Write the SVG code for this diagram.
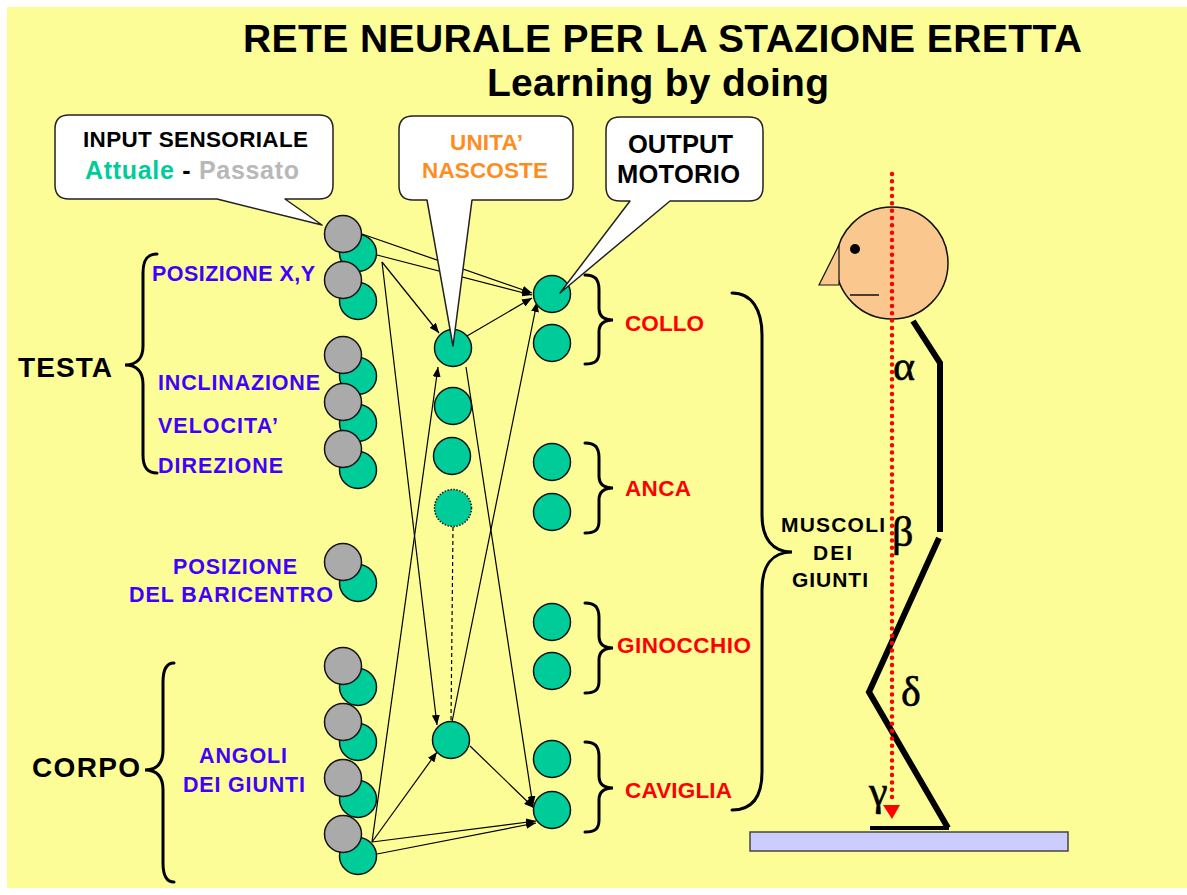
<svg xmlns="http://www.w3.org/2000/svg" width="1187" height="895" viewBox="0 0 1187 895">
  <style>
    .t { font-family: "Liberation Sans", Arial, sans-serif; font-weight: bold; }
    .title { font-size: 39px; fill: #000; }
    .call { font-size: 22.5px; }
    .blue { font-size: 21.5px; fill: #4000FF; }
    .red { font-size: 22.5px; fill: #FF0000; }
    .blk { font-size: 21px; fill: #000; }
    .big { font-size: 28px; fill: #000; }
    .greek { font-family: "Liberation Serif", "Times New Roman", serif; font-size: 42px; fill: #000; stroke: #000; stroke-width: 0.6; }
    .bubble { fill: #fff; stroke: #222; stroke-width: 1.5; stroke-linejoin: round; }
    .in-a { fill: #00CC99; stroke: #111; stroke-width: 1.5; }
    .in-p { fill: #AAAAAA; stroke: #111; stroke-width: 1.5; }
    .unit { fill: #00CC99; stroke: #111; stroke-width: 1.5; }
    .brace { fill: none; stroke: #000; stroke-width: 3; stroke-linecap: round; }
    .link { fill: none; stroke: #000; stroke-width: 1.2; }
    .body { fill: none; stroke: #000; stroke-width: 6; }
  </style>
  <defs>
    <marker id="arrow" viewBox="0 0 10 8" refX="10" refY="4" markerWidth="10" markerHeight="8" markerUnits="userSpaceOnUse" orient="auto">
      <path d="M0,0 L10,4 L0,8 Z" fill="#000"/>
    </marker>
  </defs>

  <!-- page -->
  <rect x="0" y="0" width="1187" height="895" fill="#fff"/>
  <rect x="7" y="7" width="1180" height="881" fill="#FDFD98"/>

  <!-- title -->
  <g id="title">
    <text class="t title" x="243" y="52" textLength="839">RETE NEURALE PER LA STAZIONE ERETTA</text>
    <text class="t title" x="487" y="96" textLength="342">Learning by doing</text>
  </g>

  <!-- connectors -->
  <g id="connectors">
    <line class="link" x1="362" y1="234" x2="532" y2="293" marker-end="url(#arrow)"/>
    <line class="link" x1="377" y1="255" x2="532" y2="295" marker-end="url(#arrow)"/>
    <line class="link" x1="382" y1="262" x2="439" y2="333" marker-end="url(#arrow)"/>
    <line class="link" x1="382" y1="262" x2="437" y2="725" marker-end="url(#arrow)"/>
    <line class="link" x1="372" y1="842" x2="438" y2="367" marker-end="url(#arrow)"/>
    <line class="link" x1="372" y1="842" x2="437" y2="752" marker-end="url(#arrow)"/>
    <line class="link" x1="372" y1="842" x2="536" y2="821" marker-end="url(#arrow)"/>
    <line class="link" x1="377" y1="854" x2="536" y2="823" marker-end="url(#arrow)"/>
    <line class="link" x1="467" y1="336" x2="532" y2="298" marker-end="url(#arrow)"/>
    <line class="link" x1="466" y1="367" x2="533" y2="806" marker-end="url(#arrow)"/>
    <line class="link" x1="452" y1="722" x2="537" y2="302" marker-end="url(#arrow)"/>
    <line class="link" x1="470" y1="746" x2="534" y2="808" marker-end="url(#arrow)"/>
    <line class="link" x1="453" y1="527" x2="451" y2="722" stroke-dasharray="4 3"/>
  </g>

  <!-- input units: current (green) behind, past (grey) in front -->
  <g id="inputs">
    <circle class="in-a" cx="358" cy="253" r="18.5"/><circle class="in-p" cx="343" cy="234" r="18.5"/>
    <circle class="in-a" cx="358" cy="301" r="18.5"/><circle class="in-p" cx="343" cy="280" r="18.5"/>
    <circle class="in-a" cx="358" cy="376" r="18.5"/><circle class="in-p" cx="343" cy="355" r="18.5"/>
    <circle class="in-a" cx="358" cy="423" r="18.5"/><circle class="in-p" cx="343" cy="402" r="18.5"/>
    <circle class="in-a" cx="358" cy="470" r="18.5"/><circle class="in-p" cx="343" cy="449" r="18.5"/>
    <circle class="in-a" cx="358" cy="583" r="18.5"/><circle class="in-p" cx="343" cy="562" r="18.5"/>
    <circle class="in-a" cx="358" cy="687" r="18.5"/><circle class="in-p" cx="343" cy="666" r="18.5"/>
    <circle class="in-a" cx="358" cy="742" r="18.5"/><circle class="in-p" cx="343" cy="722" r="18.5"/>
    <circle class="in-a" cx="358" cy="799" r="18.5"/><circle class="in-p" cx="343" cy="778" r="18.5"/>
    <circle class="in-a" cx="358" cy="856" r="18.5"/><circle class="in-p" cx="343" cy="834" r="18.5"/>
  </g>

  <!-- hidden units -->
  <g id="hidden">
    <circle class="unit" cx="453" cy="348" r="18.5"/>
    <circle class="unit" cx="453" cy="406" r="18.5"/>
    <circle class="unit" cx="452" cy="456" r="18.5"/>
    <circle class="unit" cx="453" cy="508" r="18.5" stroke="#556" stroke-dasharray="1.5 1.5" stroke-width="1"/>
    <circle class="unit" cx="451" cy="740" r="18.5"/>
  </g>

  <!-- output units -->
  <g id="outputs">
    <circle class="unit" cx="552" cy="294" r="18.5"/>
    <circle class="unit" cx="552" cy="343" r="18.5"/>
    <circle class="unit" cx="552" cy="462" r="18.5"/>
    <circle class="unit" cx="552" cy="512" r="18.5"/>
    <circle class="unit" cx="552" cy="622" r="18.5"/>
    <circle class="unit" cx="552" cy="671" r="18.5"/>
    <circle class="unit" cx="552" cy="759" r="18.5"/>
    <circle class="unit" cx="552" cy="810" r="18.5"/>
  </g>

  <!-- callouts -->
  <g id="callout-input">
    <path class="bubble" d="M69,115 H319 Q333,115 333,129 V185 Q333,199 319,199 H285 L322,225 L217,199 H69 Q55,199 55,185 V129 Q55,115 69,115 Z"/>
    <text class="t call" x="83" y="147" textLength="225" fill="#000">INPUT SENSORIALE</text>
    <text class="t" x="85" y="179" textLength="214" font-size="25"><tspan fill="#00CC99">Attuale</tspan><tspan fill="#000"> - </tspan><tspan fill="#B8B8B8">Passato</tspan></text>
  </g>
  <g id="callout-hidden">
    <path class="bubble" d="M413,116 H559 Q573,116 573,130 V186 Q573,200 559,200 H472 L453,346 L427,200 H413 Q399,200 399,186 V130 Q399,116 413,116 Z"/>
    <text class="t call" x="450" y="150" textLength="73" fill="#FF8C1E">UNITA’</text>
    <text class="t call" x="422" y="178" textLength="126" fill="#FF8C1E">NASCOSTE</text>
  </g>
  <g id="callout-output">
    <path class="bubble" d="M620,117 H749 Q763,117 763,131 V187 Q763,201 749,201 H670 L560,293 L630,201 H620 Q606,201 606,187 V131 Q606,117 620,117 Z"/>
    <text class="t" x="628" y="153" textLength="105" font-size="25.5">OUTPUT</text>
    <text class="t" x="617" y="183" textLength="123" font-size="25.5">MOTORIO</text>
  </g>

  <!-- input labels -->
  <g id="head-inputs">
    <path class="brace" d="M157,254 C147,254 143,260 143,273 V346 C143,358 137,365 125,365 C137,365 143,372 143,384 V455 C143,467 147,473 157,473"/>
    <text class="t big" x="18" y="377" textLength="94">TESTA</text>
    <text class="t blue" x="152" y="281" textLength="163">POSIZIONE X,Y</text>
    <text class="t blue" x="158" y="390" textLength="162">INCLINAZIONE</text>
    <text class="t blue" x="158" y="433" textLength="120">VELOCITA’</text>
    <text class="t blue" x="158" y="473" textLength="125">DIREZIONE</text>
  </g>
  <g id="barycentre-input">
    <text class="t blue" x="173" y="574" textLength="124">POSIZIONE</text>
    <text class="t blue" x="129" y="602" textLength="204">DEL BARICENTRO</text>
  </g>
  <g id="body-inputs">
    <path class="brace" d="M174,663 C167,663 163,669 163,682 V750 C163,763 157,770 145,770 C157,770 163,777 163,790 V863 C163,876 167,882 174,882"/>
    <text class="t big" x="32" y="777" textLength="108">CORPO</text>
    <text class="t blue" x="199" y="763" textLength="88">ANGOLI</text>
    <text class="t blue" x="183" y="792" textLength="122">DEI GIUNTI</text>
  </g>

  <!-- output labels -->
  <g id="joint-outputs">
    <path class="brace" d="M585,275 C595,275 599,279 599,290 V308 C599,316 604,320 613,320 C604,320 599,324 599,332 V352 C599,361 595,364 585,364"/>
    <path class="brace" d="M585,443 C595,443 599,447 599,458 V476 C599,484 604,488 613,488 C604,488 599,492 599,500 V521 C599,530 595,533 585,533"/>
    <path class="brace" d="M585,603 C595,603 599,607 599,618 V636 C599,644 604,648 613,648 C604,648 599,652 599,660 V681 C599,690 595,693 585,693"/>
    <path class="brace" d="M585,742 C595,742 599,746 599,757 V776 C599,784 604,788 613,788 C604,788 599,792 599,800 V820 C599,829 595,832 585,832"/>
    <text class="t red" x="625" y="331" textLength="79">COLLO</text>
    <text class="t red" x="625" y="496" textLength="66">ANCA</text>
    <text class="t red" x="617" y="653" textLength="134">GINOCCHIO</text>
    <text class="t red" x="625" y="798" textLength="107">CAVIGLIA</text>
  </g>
  <g id="muscles">
    <path class="brace" d="M732,293 C752,293 762,310 762,335 V515 C762,538 772,552 792,552 C772,552 762,566 762,590 V772 C762,797 752,810 732,810"/>
    <text class="t blk" x="781" y="532" textLength="104">MUSCOLI</text>
    <text class="t blk" x="813" y="560" textLength="39">DEI</text>
    <text class="t blk" x="792" y="587" textLength="76">GIUNTI</text>
  </g>

  <!-- standing figure -->
  <g id="figure">
    <rect x="750" y="832" width="318" height="19" fill="#CCCCFF" stroke="#444" stroke-width="1.5"/>
    <circle cx="892" cy="263" r="56" fill="#FAC88F" stroke="#111" stroke-width="1.5"/>
    <polygon points="839,245 819,285 839,285" fill="#FAC88F" stroke="#111" stroke-width="1.2"/>
    <circle cx="855" cy="249" r="5" fill="#000"/>
    <line x1="850" y1="295" x2="879" y2="295" stroke="#111" stroke-width="1.5"/>
    <polyline class="body" points="913,321 940,363 940,532"/>
    <polyline class="body" points="939,538 869,692 948,828"/>
    <line x1="870" y1="828" x2="949" y2="828" stroke="#000" stroke-width="4"/>
    <line x1="892" y1="174" x2="892" y2="800" stroke="#FF0000" stroke-width="4.5" stroke-linecap="round" stroke-dasharray="0 7.33"/>
    <polygon points="883,805 900,805 892,819" fill="#FF0000"/>
    <text class="greek" x="893" y="380">α</text>
    <text class="greek" x="892" y="546">β</text>
    <text class="greek" x="901" y="706">δ</text>
    <text class="greek" x="869" y="805">γ</text>
  </g>
</svg>
